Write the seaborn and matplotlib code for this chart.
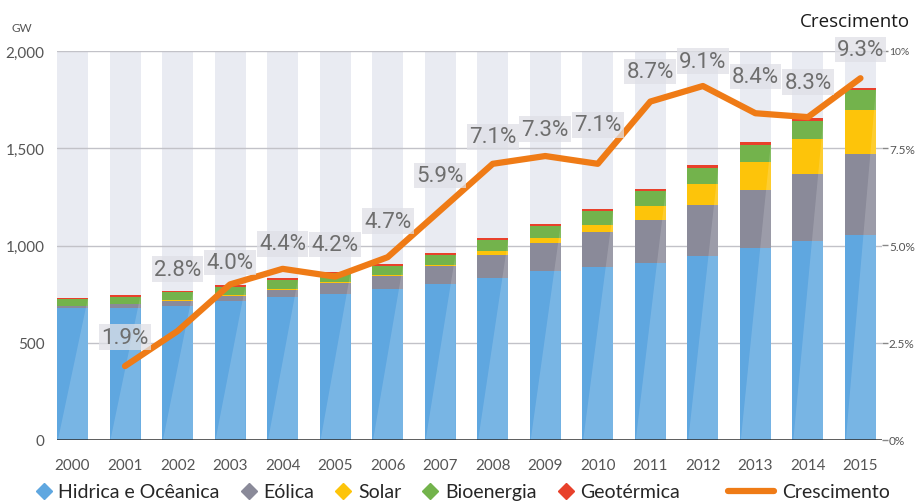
import numpy as np
import matplotlib
matplotlib.use("Agg")
import matplotlib.pyplot as plt
from matplotlib.lines import Line2D
from matplotlib.patches import Polygon
import seaborn as sns

# capacidade instalada (GW) por fonte
years = [str(y) for y in range(2000, 2016)]
hidrica = [677, 680, 690, 716, 733, 750, 776, 802, 831, 867, 887, 910, 944, 985, 1021, 1053]
eolica = [13, 19, 26, 26, 39, 55, 65, 91, 120, 144, 180, 222, 265, 300, 346, 417]
solar = [1, 1, 2, 3, 4, 5, 7, 8, 20, 25, 39, 72, 106, 142, 180, 226]
bioenergia = [34, 36, 41, 43, 48, 47, 48, 51, 57, 62, 71, 74, 86, 90, 94, 104]
geotermica = [6, 8, 8, 9, 7, 8, 8, 9, 8, 12, 12, 12, 12, 13, 14, 10]

# crescimento anual (%)
growth_years = years[1:]
growth = [1.9, 2.8, 4.0, 4.4, 4.2, 4.7, 5.9, 7.1, 7.3, 7.1, 8.7, 9.1, 8.4, 8.3, 9.3]
label_dy = [29, 62, 22, 25, 32, 36, 35, 27, 27, 39, 30, 25, 37, 35, 29]  # px acima da linha

names = ["Hidrica e Ocêanica", "Eólica", "Solar", "Bioenergia", "Geotérmica"]
colors = ["#5fa7e0", "#8a8a99", "#fdc40a", "#73b34c", "#e8412b"]
orange = "#ef7b16"

sns.set_style("white")
plt.rcParams['font.family'] = ['Lato', 'DejaVu Sans']

fig = plt.figure(figsize=(9.17, 5.02), dpi=100)
ax = fig.add_axes([57 / 917, 61 / 502, 825 / 917, 389 / 502])
bw = 0.59

# colunas de fundo
sns.barplot(x=years, y=np.full(len(years), 2000), color="#e9ebf2", width=bw,
            saturation=1, linewidth=0, ax=ax, zorder=0)
for v in [500, 1000, 1500, 2000]:
    ax.axhline(v, color="#c2c2c8", lw=1, zorder=1)

series = [hidrica, eolica, solar, bioenergia, geotermica]
cums = np.cumsum(np.array(series), axis=0)
total_patches = None
for cum, c in zip(cums[::-1], colors[::-1]):
    n0 = len(ax.patches)
    sns.barplot(x=years, y=cum, color=c, width=bw, saturation=1, linewidth=0,
                ax=ax, zorder=2)
    if total_patches is None:
        total_patches = ax.patches[n0:]

# brilho diagonal nas barras
for p in total_patches:
    x0, w, h = p.get_x(), p.get_width(), p.get_height()
    ax.add_patch(Polygon([(x0 + 0.03 * w, 0), (x0 + w, h), (x0 + w, 0)],
                         closed=True, fc="white", ec="none", alpha=0.16, zorder=2.5))

ax.axhline(0, color="#2d2d2d", lw=1.8, zorder=3)
ax.set_xlim(-bw / 2, 15.41)
ax.set_ylim(0, 2000)
ax.set_yticks([0, 500, 1000, 1500, 2000])
ax.set_yticklabels(["0", "500", "1,000", "1,500", "2,000"])
ax.tick_params(axis="y", length=0, pad=9, labelsize=11, labelcolor="#555555")
ax.tick_params(axis="x", length=0, pad=13, labelsize=11, labelcolor="#555555")
ax.set_xlabel("")
ax.set_ylabel("")
sns.despine(ax=ax, left=True, bottom=True)

# linha de crescimento
ax2 = ax.twinx()
pos = [years.index(y) for y in growth_years]
sns.lineplot(x=pos, y=growth, ax=ax2, color=orange, lw=4.5, zorder=5)
ax2.set_ylim(0, 10)
ax2.set_yticks([0, 2.5, 5, 7.5, 10])
ax2.set_yticklabels(["0%", "2.5%", "5.0%", "7.5%", "10%"])
ax2.tick_params(axis="y", length=4, width=1, color="#888888", pad=1,
                labelsize=8.5, labelcolor="#555555")
ax2.get_yticklabels()[-1].set_fontsize(7.5)
for s in ax2.spines.values():
    s.set_visible(False)
ax2.set_xlabel("")
ax2.set_ylabel("")

for x, v, dy in zip(pos, growth, label_dy):
    ax2.annotate(f"{v:.1f}%", (x, v), xytext=(0, dy), textcoords="offset pixels",
                 ha="center", va="center", fontsize=16, color="#6e6e6e",
                 family=["Liberation Sans Narrow", "Roboto", "DejaVu Sans"],
                 bbox=dict(boxstyle="square,pad=0.1", fc="#dfe0e6", ec="none", alpha=0.75),
                 zorder=6, annotation_clip=False)

fig.text(12 / 917, 1 - 28 / 502, "GW", fontsize=8.5, color="#555555", va="center")
fig.text(910 / 917, 1 - 22 / 502, "Crescimento", fontsize=13.5, color="#1a1a1a",
         ha="right", va="center", family=["Open Sans", "DejaVu Sans"])

handles = [Line2D([], [], marker="D", ls="none", color=c, markersize=8) for c in colors]
fig.legend(handles, names, loc="center left", bbox_to_anchor=(32 / 917, 9 / 502),
           ncol=5, frameon=False, fontsize=14, handletextpad=0.15, columnspacing=0.9,
           borderaxespad=0, borderpad=0, handlelength=1.2)
fig.legend([Line2D([], [], color=orange, lw=4.5)], ["Crescimento"], loc="center right",
           bbox_to_anchor=(890 / 917, 9 / 502), frameon=False, fontsize=14,
           handletextpad=0.4, handlelength=2.4, borderaxespad=0, borderpad=0)

fig.savefig("out.png", dpi=100)
